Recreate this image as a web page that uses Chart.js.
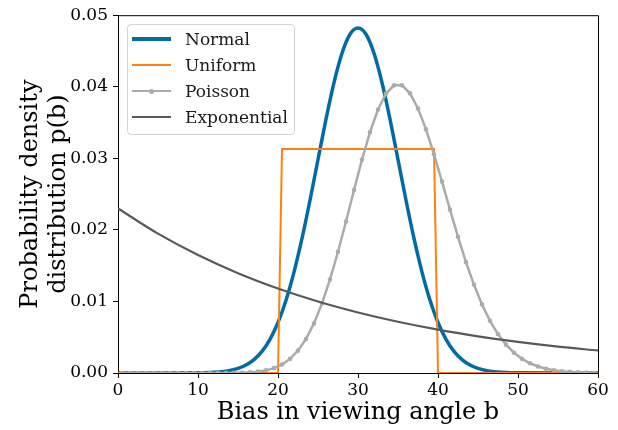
<!DOCTYPE html>
<html>
<head>
<meta charset="utf-8">
<script src="https://cdn.jsdelivr.net/npm/chart.js@4.4.0/dist/chart.umd.min.js"></script>
<style>
html,body{margin:0;padding:0;background:#fff}
#wrap{position:relative;width:618px;height:430px}
#legend{position:absolute;left:127px;top:24px;width:166px;height:109px;border:1px solid #d4d4d4;border-radius:4px;background:rgba(255,255,255,0.8);font-family:'DejaVu Serif';font-size:17px;color:#1a1a1a}
.row{position:absolute;left:0;width:100%;height:26px;line-height:26px}
.swatch{position:absolute;left:4px;width:39px}
.dot{position:absolute;left:17px;width:5px;height:5px;border-radius:50%}
.lbl{position:absolute;left:57px;top:0;white-space:nowrap}
</style>
</head>
<body>
<div id="wrap">
<canvas id="c" width="618" height="430"></canvas>
<div id="legend"></div>
</div>
<script>
// axis ticks
const xTicks=[0,10,20,30,40,50,60];
const yTicks=[0,0.01,0.02,0.03,0.04,0.05];
const yTickLabels=['0.00','0.01','0.02','0.03','0.04','0.05'];

// Normal
const normalX=[0,5,10,12,13,14,15,16,17,18,19,20,21,22,23,24,25,26,27,28,29,30,31,32,33,34,35,36,37,38,39,40,41,42,43,44,45,46,47,48,50,55,60];
const normalY=[0,0,0.00002,0.0001,0.00018,0.00035,0.00064,0.00112,0.00188,0.00303,0.00471,0.00706,0.01017,0.0141,0.0188,0.02414,0.02983,0.03547,0.04058,0.04468,0.04733,0.0482,0.04733,0.04468,0.04058,0.03547,0.02983,0.02414,0.0188,0.0141,0.01017,0.00706,0.00471,0.00303,0.00188,0.00112,0.00064,0.00035,0.00018,0.0001,0.00002,0,0];

// Uniform
const uniformX=[0,20,20.5,39.5,40,60];
const uniformY=[0,0,0.0313,0.0313,0,0];

// Poisson (points at bin centres)
const poissonX=[0.5,1.5,2.5,3.5,4.5,5.5,6.5,7.5,8.5,9.5,10.5,11.5,12.5,13.5,14.5,15.5,16.5,17.5,18.5,19.5,20.5,21.5,22.5,23.5,24.5,25.5,26.5,27.5,28.5,29.5,30.5,31.5,32.5,33.5,34.5,35.5,36.5,37.5,38.5,39.5,40.5,41.5,42.5,43.5,44.5,45.5,46.5,47.5,48.5,49.5,50.5,51.5,52.5,53.5,54.5,55.5,56.5,57.5,58.5,59.5];
const poissonY=[0,0,0,0,0,0,0,0,0,0,0,0,0,0,0.00002,0.00004,0.00009,0.00019,0.00037,0.00068,0.00118,0.00197,0.00312,0.00476,0.00693,0.00971,0.01307,0.01694,0.02117,0.02556,0.02982,0.03366,0.03682,0.03905,0.0402,0.0402,0.03908,0.03697,0.03405,0.03056,0.02674,0.02283,0.01902,0.01549,0.01232,0.00958,0.00729,0.00543,0.00396,0.00283,0.00198,0.00136,0.00091,0.0006,0.00039,0.00025,0.00016,0.0001,0.00006,0.00003];

// Exponential
const expX=[0,5,10,15,20,25,30,35,40,45,50,55,60];
const expY=[0.0230,0.01947,0.01648,0.01395,0.01181,0.00999,0.00846,0.00716,0.00606,0.00513,0.00434,0.00368,0.00315];

const names=['Normal','Uniform','Poisson','Exponential'];
const colors=['#006BA4','#FF800E','#ABABAB','#595959'];
const widths=[3.5,2,2.5,2.2];

function pts(xs,ys){return xs.map((x,i)=>({x:x,y:ys[i]}));}

const serif="'DejaVu Serif', serif";

const frame={
id:'frame',
afterDatasetsDraw(chart){
const a=chart.chartArea, ctx=chart.ctx;
ctx.save();
ctx.strokeStyle='#000';
ctx.lineWidth=1;
ctx.beginPath();
ctx.moveTo(a.left,a.top+0.5);
ctx.lineTo(a.right+0.5,a.top+0.5);
ctx.lineTo(a.right+0.5,a.bottom);
ctx.stroke();
ctx.restore();
}
};

new Chart(document.getElementById('c'),{
type:'line',
data:{
datasets:[
{label:names[0],data:pts(normalX,normalY),borderColor:colors[0],borderWidth:widths[0],pointRadius:0,cubicInterpolationMode:'monotone',order:4,clip:0},
{label:names[1],data:pts(uniformX,uniformY),borderColor:colors[1],borderWidth:widths[1],pointRadius:0,tension:0,order:3,clip:0},
{label:names[2],data:pts(poissonX,poissonY),borderColor:colors[2],borderWidth:widths[2],pointRadius:2.3,pointBorderWidth:0,pointBackgroundColor:colors[2],tension:0,order:2,clip:0},
{label:names[3],data:pts(expX,expY),borderColor:colors[3],borderWidth:widths[3],pointRadius:0,cubicInterpolationMode:'monotone',order:1,clip:0}
]
},
options:{
responsive:false,
animation:false,
layout:{padding:{top:15,right:20,left:0,bottom:0}},
plugins:{legend:{display:false},tooltip:{enabled:false}},
scales:{
x:{
type:'linear',min:0,max:60,
afterBuildTicks:s=>{s.ticks=xTicks.map(v=>({value:v}));},
afterFit:s=>{s.height=57;},
ticks:{font:{family:serif,size:17},color:'#000',padding:2,maxRotation:0},
grid:{drawOnChartArea:false,tickLength:5,color:'#000'},
border:{color:'#000',width:1},
title:{display:true,text:'Bias in viewing angle b',font:{family:serif,size:24},color:'#000',padding:{top:0,bottom:3}}
},
y:{
min:0,max:0.05,
afterBuildTicks:s=>{s.ticks=yTicks.map(v=>({value:v}));},
afterFit:s=>{s.width=118;},
ticks:{font:{family:serif,size:17},color:'#000',padding:5,callback:(v,i)=>yTickLabels[i]},
grid:{drawOnChartArea:false,tickLength:5,color:'#000'},
border:{color:'#000',width:1},
title:{display:true,text:['Probability density','distribution p(b)'],font:{family:serif,size:24},color:'#000',padding:{top:16,bottom:0}}
}
}
},
plugins:[frame]
});

// legend box
const lg=document.getElementById('legend');
names.forEach((n,i)=>{
const row=document.createElement('div');
row.className='row';
row.style.top=(1+i*26)+'px';
const sw=document.createElement('div');
sw.className='swatch';
sw.style.height=widths[i]+'px';
sw.style.top=(13-widths[i]/2)+'px';
sw.style.background=colors[i];
row.appendChild(sw);
if(i===2){
const d=document.createElement('div');
d.className='dot';
d.style.background=colors[i];
d.style.top=(widths[i]/2-2.5)+'px';
sw.appendChild(d);
}
const t=document.createElement('span');
t.className='lbl';
t.textContent=n;
row.appendChild(t);
lg.appendChild(row);
});
</script>
</body>
</html>
